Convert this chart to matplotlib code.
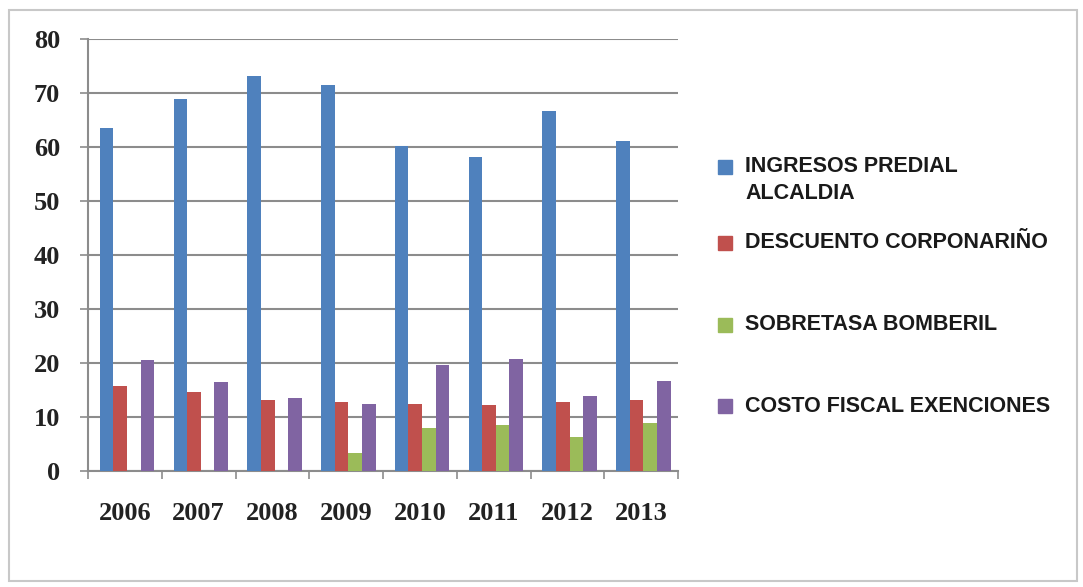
import matplotlib.pyplot as plt
import numpy as np
from matplotlib.patches import Rectangle

years = ['2006', '2007', '2008', '2009', '2010', '2011', '2012', '2013']
ingresos = [63.5, 68.8, 73.2, 71.5, 60.1, 58.1, 66.7, 61.1]
descuento = [15.7, 14.7, 13.1, 12.8, 12.5, 12.2, 12.8, 13.1]
sobretasa = [0, 0, 0, 3.3, 8.0, 8.6, 6.3, 8.9]
costo = [20.6, 16.4, 13.6, 12.5, 19.6, 20.8, 13.9, 16.7]

labels = ['INGRESOS PREDIAL\nALCALDIA', 'DESCUENTO CORPONARIÑO',
          'SOBRETASA BOMBERIL', 'COSTO FISCAL EXENCIONES']
colors = ['#4F81BD', '#C0504D', '#9BBB59', '#8064A2']
series = [ingresos, descuento, sobretasa, costo]

W, H = 1083, 587
fig = plt.figure(figsize=(W / 100, H / 100), dpi=100)

# axes box in pixels: x 88..678, y 39..471
ax = fig.add_axes([88 / W, (H - 471) / H, (678 - 88) / W, (471 - 39) / H])

x = np.arange(len(years))
bw = 0.185
for k, (vals, c) in enumerate(zip(series, colors)):
    ax.bar(x + (k - 1.5) * bw + 0.03, vals, width=bw, color=c, zorder=3)

grid_c = '#8c8c8c'
ax.set_xlim(-0.5, len(years) - 0.5)
ax.set_ylim(0, 80)
ax.set_yticks(range(0, 81, 10))
ax.yaxis.grid(True, color=grid_c, linewidth=1.5, zorder=0)
ax.set_xticks(x)
ax.set_xticklabels(years)
ax.set_xticks(np.arange(-0.5, len(years)), minor=True)
ax.tick_params(axis='x', which='major', length=0, pad=22)
ax.tick_params(axis='x', which='minor', length=6, color=grid_c, width=1.2)
ax.tick_params(axis='y', length=6, color=grid_c, width=1.2, pad=14)

for side in ['top', 'right']:
    ax.spines[side].set_visible(False)
for side in ['left', 'bottom']:
    ax.spines[side].set_color(grid_c)
    ax.spines[side].set_linewidth(1.5)

for t in ax.get_xticklabels() + ax.get_yticklabels():
    t.set_family(['Liberation Serif', 'DejaVu Serif'])
    t.set_weight('bold')
    t.set_size(19)
    t.set_color('#222222')

# legend drawn by hand to match spacing
leg_y = [167, 243, 325, 406]
for lab, c, yy in zip(labels, colors, leg_y):
    fig.patches.append(Rectangle((718 / W, (H - yy - 7) / H), 14 / W, 14 / H,
                                 transform=fig.transFigure, color=c))
    if '\n' in lab:
        fig.text(745 / W, (H - yy + 11) / H, lab, ha='left', va='top',
                 family=['Liberation Sans', 'DejaVu Sans'],
                 weight='bold', size=15.5, color='#1a1a1a', linespacing=1.35)
    else:
        fig.text(745 / W, (H - yy) / H, lab, ha='left', va='center',
                 family=['Liberation Sans', 'DejaVu Sans'],
                 weight='bold', size=15.5, color='#1a1a1a')

# outer chart border
fig.patches.append(Rectangle((9 / W, 6 / H), (1077 - 9) / W, (577 - 6) / H,
                             transform=fig.transFigure, fill=False,
                             edgecolor='#c8c8c8', linewidth=1.5))

fig.savefig('out.png', dpi=100)
